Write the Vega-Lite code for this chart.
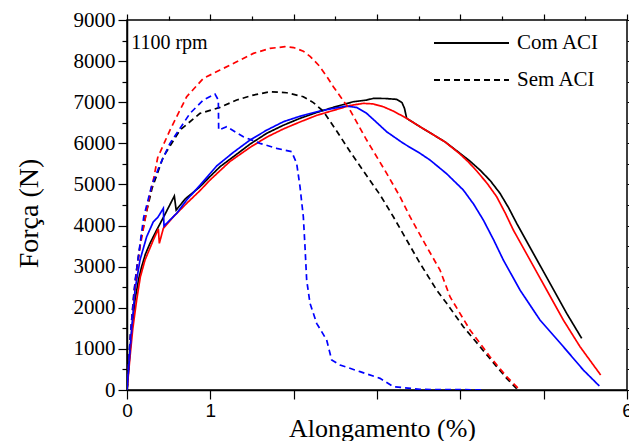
{
  "$schema": "https://vega.github.io/schema/vega-lite/v6.json",
  "width": 500,
  "height": 370,
  "autosize": {"type": "none"},
  "padding": {"left": 127, "top": 20, "right": 2, "bottom": 51},
  "background": "white",
  "config": {
    "view": {"stroke": "black", "strokeWidth": 1.5},
    "axis": {"grid": false, "domainColor": "black", "domainWidth": 1.5, "tickColor": "black", "tickWidth": 1.2, "labelColor": "black", "titleColor": "black", "titleFontWeight": "normal"}
  },
  "datasets": {
    "curves": [
      {"s":"A","t":"Com ACI","i":0,"x":0,"f":0},
      {"s":"A","t":"Com ACI","i":1,"x":0.036,"f":973},
      {"s":"A","t":"Com ACI","i":2,"x":0.06,"f":1500},
      {"s":"A","t":"Com ACI","i":3,"x":0.096,"f":2189},
      {"s":"A","t":"Com ACI","i":4,"x":0.14,"f":2700},
      {"s":"A","t":"Com ACI","i":5,"x":0.176,"f":2999},
      {"s":"A","t":"Com ACI","i":6,"x":0.22,"f":3300},
      {"s":"A","t":"Com ACI","i":7,"x":0.276,"f":3567},
      {"s":"A","t":"Com ACI","i":8,"x":0.356,"f":3891},
      {"s":"A","t":"Com ACI","i":9,"x":0.45,"f":4250},
      {"s":"A","t":"Com ACI","i":10,"x":0.568,"f":4718},
      {"s":"A","t":"Com ACI","i":11,"x":0.59,"f":4378},
      {"s":"A","t":"Com ACI","i":12,"x":0.7,"f":4650},
      {"s":"A","t":"Com ACI","i":13,"x":0.876,"f":4944},
      {"s":"A","t":"Com ACI","i":14,"x":1.0,"f":5200},
      {"s":"A","t":"Com ACI","i":15,"x":1.116,"f":5431},
      {"s":"A","t":"Com ACI","i":16,"x":1.276,"f":5674},
      {"s":"A","t":"Com ACI","i":17,"x":1.476,"f":5980},
      {"s":"A","t":"Com ACI","i":18,"x":1.676,"f":6243},
      {"s":"A","t":"Com ACI","i":19,"x":1.876,"f":6440},
      {"s":"A","t":"Com ACI","i":20,"x":2.076,"f":6608},
      {"s":"A","t":"Com ACI","i":21,"x":2.276,"f":6750},
      {"s":"A","t":"Com ACI","i":22,"x":2.476,"f":6875},
      {"s":"A","t":"Com ACI","i":23,"x":2.716,"f":7012},
      {"s":"A","t":"Com ACI","i":24,"x":2.876,"f":7053},
      {"s":"A","t":"Com ACI","i":25,"x":2.956,"f":7094},
      {"s":"A","t":"Com ACI","i":26,"x":3.1,"f":7090},
      {"s":"A","t":"Com ACI","i":27,"x":3.236,"f":7070},
      {"s":"A","t":"Com ACI","i":28,"x":3.3,"f":6990},
      {"s":"A","t":"Com ACI","i":29,"x":3.33,"f":6850},
      {"s":"A","t":"Com ACI","i":30,"x":3.356,"f":6608},
      {"s":"A","t":"Com ACI","i":31,"x":3.516,"f":6404},
      {"s":"A","t":"Com ACI","i":32,"x":3.636,"f":6258},
      {"s":"A","t":"Com ACI","i":33,"x":3.82,"f":6030},
      {"s":"A","t":"Com ACI","i":34,"x":3.996,"f":5757},
      {"s":"A","t":"Com ACI","i":35,"x":4.12,"f":5560},
      {"s":"A","t":"Com ACI","i":36,"x":4.236,"f":5350},
      {"s":"A","t":"Com ACI","i":37,"x":4.36,"f":5090},
      {"s":"A","t":"Com ACI","i":38,"x":4.476,"f":4784},
      {"s":"A","t":"Com ACI","i":39,"x":4.58,"f":4430},
      {"s":"A","t":"Com ACI","i":40,"x":4.676,"f":4054},
      {"s":"A","t":"Com ACI","i":41,"x":4.876,"f":3324},
      {"s":"A","t":"Com ACI","i":42,"x":5.076,"f":2595},
      {"s":"A","t":"Com ACI","i":43,"x":5.276,"f":1865},
      {"s":"A","t":"Com ACI","i":44,"x":5.456,"f":1257},

      {"s":"B","t":"Com ACI","i":0,"x":0,"f":0},
      {"s":"B","t":"Com ACI","i":1,"x":0.036,"f":800},
      {"s":"B","t":"Com ACI","i":2,"x":0.07,"f":1500},
      {"s":"B","t":"Com ACI","i":3,"x":0.116,"f":2189},
      {"s":"B","t":"Com ACI","i":4,"x":0.16,"f":2750},
      {"s":"B","t":"Com ACI","i":5,"x":0.216,"f":3162},
      {"s":"B","t":"Com ACI","i":6,"x":0.316,"f":3648},
      {"s":"B","t":"Com ACI","i":7,"x":0.376,"f":3920},
      {"s":"B","t":"Com ACI","i":8,"x":0.388,"f":3567},
      {"s":"B","t":"Com ACI","i":9,"x":0.436,"f":3932},
      {"s":"B","t":"Com ACI","i":10,"x":0.55,"f":4200},
      {"s":"B","t":"Com ACI","i":11,"x":0.716,"f":4540},
      {"s":"B","t":"Com ACI","i":12,"x":0.876,"f":4850},
      {"s":"B","t":"Com ACI","i":13,"x":0.996,"f":5107},
      {"s":"B","t":"Com ACI","i":14,"x":1.236,"f":5560},
      {"s":"B","t":"Com ACI","i":15,"x":1.476,"f":5900},
      {"s":"B","t":"Com ACI","i":16,"x":1.676,"f":6150},
      {"s":"B","t":"Com ACI","i":17,"x":1.876,"f":6350},
      {"s":"B","t":"Com ACI","i":18,"x":2.076,"f":6520},
      {"s":"B","t":"Com ACI","i":19,"x":2.276,"f":6680},
      {"s":"B","t":"Com ACI","i":20,"x":2.476,"f":6800},
      {"s":"B","t":"Com ACI","i":21,"x":2.676,"f":6920},
      {"s":"B","t":"Com ACI","i":22,"x":2.836,"f":6972},
      {"s":"B","t":"Com ACI","i":23,"x":2.95,"f":6960},
      {"s":"B","t":"Com ACI","i":24,"x":3.076,"f":6890},
      {"s":"B","t":"Com ACI","i":25,"x":3.2,"f":6780},
      {"s":"B","t":"Com ACI","i":26,"x":3.356,"f":6608},
      {"s":"B","t":"Com ACI","i":27,"x":3.516,"f":6404},
      {"s":"B","t":"Com ACI","i":28,"x":3.636,"f":6258},
      {"s":"B","t":"Com ACI","i":29,"x":3.82,"f":6030},
      {"s":"B","t":"Com ACI","i":30,"x":3.996,"f":5740},
      {"s":"B","t":"Com ACI","i":31,"x":4.1,"f":5540},
      {"s":"B","t":"Com ACI","i":32,"x":4.2,"f":5320},
      {"s":"B","t":"Com ACI","i":33,"x":4.32,"f":5030},
      {"s":"B","t":"Com ACI","i":34,"x":4.436,"f":4702},
      {"s":"B","t":"Com ACI","i":35,"x":4.54,"f":4300},
      {"s":"B","t":"Com ACI","i":36,"x":4.636,"f":3891},
      {"s":"B","t":"Com ACI","i":37,"x":4.836,"f":3162},
      {"s":"B","t":"Com ACI","i":38,"x":5.036,"f":2432},
      {"s":"B","t":"Com ACI","i":39,"x":5.236,"f":1702},
      {"s":"B","t":"Com ACI","i":40,"x":5.436,"f":1054},
      {"s":"B","t":"Com ACI","i":41,"x":5.684,"f":365},

      {"s":"C","t":"Com ACI","i":0,"x":0,"f":0},
      {"s":"C","t":"Com ACI","i":1,"x":0.056,"f":1459},
      {"s":"C","t":"Com ACI","i":2,"x":0.096,"f":2432},
      {"s":"C","t":"Com ACI","i":3,"x":0.156,"f":3162},
      {"s":"C","t":"Com ACI","i":4,"x":0.236,"f":3728},
      {"s":"C","t":"Com ACI","i":5,"x":0.316,"f":4093},
      {"s":"C","t":"Com ACI","i":6,"x":0.37,"f":4200},
      {"s":"C","t":"Com ACI","i":7,"x":0.436,"f":4418},
      {"s":"C","t":"Com ACI","i":8,"x":0.444,"f":3990},
      {"s":"C","t":"Com ACI","i":9,"x":0.596,"f":4297},
      {"s":"C","t":"Com ACI","i":10,"x":0.716,"f":4621},
      {"s":"C","t":"Com ACI","i":11,"x":0.876,"f":4980},
      {"s":"C","t":"Com ACI","i":12,"x":1.076,"f":5450},
      {"s":"C","t":"Com ACI","i":13,"x":1.276,"f":5780},
      {"s":"C","t":"Com ACI","i":14,"x":1.476,"f":6080},
      {"s":"C","t":"Com ACI","i":15,"x":1.676,"f":6320},
      {"s":"C","t":"Com ACI","i":16,"x":1.876,"f":6525},
      {"s":"C","t":"Com ACI","i":17,"x":2.076,"f":6660},
      {"s":"C","t":"Com ACI","i":18,"x":2.276,"f":6768},
      {"s":"C","t":"Com ACI","i":19,"x":2.476,"f":6850},
      {"s":"C","t":"Com ACI","i":20,"x":2.636,"f":6907},
      {"s":"C","t":"Com ACI","i":21,"x":2.76,"f":6870},
      {"s":"C","t":"Com ACI","i":22,"x":2.876,"f":6729},
      {"s":"C","t":"Com ACI","i":23,"x":3.0,"f":6500},
      {"s":"C","t":"Com ACI","i":24,"x":3.116,"f":6282},
      {"s":"C","t":"Com ACI","i":25,"x":3.316,"f":6000},
      {"s":"C","t":"Com ACI","i":26,"x":3.516,"f":5757},
      {"s":"C","t":"Com ACI","i":27,"x":3.636,"f":5594},
      {"s":"C","t":"Com ACI","i":28,"x":3.836,"f":5260},
      {"s":"C","t":"Com ACI","i":29,"x":4.036,"f":4864},
      {"s":"C","t":"Com ACI","i":30,"x":4.16,"f":4520},
      {"s":"C","t":"Com ACI","i":31,"x":4.276,"f":4134},
      {"s":"C","t":"Com ACI","i":32,"x":4.4,"f":3650},
      {"s":"C","t":"Com ACI","i":33,"x":4.516,"f":3162},
      {"s":"C","t":"Com ACI","i":34,"x":4.716,"f":2432},
      {"s":"C","t":"Com ACI","i":35,"x":4.956,"f":1702},
      {"s":"C","t":"Com ACI","i":36,"x":5.236,"f":1054},
      {"s":"C","t":"Com ACI","i":37,"x":5.476,"f":486},
      {"s":"C","t":"Com ACI","i":38,"x":5.668,"f":97},

      {"s":"A","t":"Sem ACI","i":0,"x":0,"f":0},
      {"s":"A","t":"Sem ACI","i":1,"x":0.04,"f":1300},
      {"s":"A","t":"Sem ACI","i":2,"x":0.08,"f":2300},
      {"s":"A","t":"Sem ACI","i":3,"x":0.12,"f":3000},
      {"s":"A","t":"Sem ACI","i":4,"x":0.17,"f":3700},
      {"s":"A","t":"Sem ACI","i":5,"x":0.23,"f":4300},
      {"s":"A","t":"Sem ACI","i":6,"x":0.3,"f":4900},
      {"s":"A","t":"Sem ACI","i":7,"x":0.436,"f":5674},
      {"s":"A","t":"Sem ACI","i":8,"x":0.636,"f":6323},
      {"s":"A","t":"Sem ACI","i":9,"x":0.876,"f":6729},
      {"s":"A","t":"Sem ACI","i":10,"x":1.116,"f":6875},
      {"s":"A","t":"Sem ACI","i":11,"x":1.316,"f":7053},
      {"s":"A","t":"Sem ACI","i":12,"x":1.516,"f":7174},
      {"s":"A","t":"Sem ACI","i":13,"x":1.716,"f":7255},
      {"s":"A","t":"Sem ACI","i":14,"x":1.916,"f":7231},
      {"s":"A","t":"Sem ACI","i":15,"x":2.116,"f":7133},
      {"s":"A","t":"Sem ACI","i":16,"x":2.236,"f":6990},
      {"s":"A","t":"Sem ACI","i":17,"x":2.356,"f":6780},
      {"s":"A","t":"Sem ACI","i":18,"x":2.516,"f":6300},
      {"s":"A","t":"Sem ACI","i":19,"x":2.676,"f":5800},
      {"s":"A","t":"Sem ACI","i":20,"x":2.856,"f":5270},
      {"s":"A","t":"Sem ACI","i":21,"x":3.036,"f":4750},
      {"s":"A","t":"Sem ACI","i":22,"x":3.196,"f":4215},
      {"s":"A","t":"Sem ACI","i":23,"x":3.356,"f":3648},
      {"s":"A","t":"Sem ACI","i":24,"x":3.516,"f":3081},
      {"s":"A","t":"Sem ACI","i":25,"x":3.716,"f":2432},
      {"s":"A","t":"Sem ACI","i":26,"x":3.836,"f":2108},
      {"s":"A","t":"Sem ACI","i":27,"x":4.036,"f":1540},
      {"s":"A","t":"Sem ACI","i":28,"x":4.236,"f":1054},
      {"s":"A","t":"Sem ACI","i":29,"x":4.436,"f":567},
      {"s":"A","t":"Sem ACI","i":30,"x":4.556,"f":284},
      {"s":"A","t":"Sem ACI","i":31,"x":4.676,"f":30},

      {"s":"B","t":"Sem ACI","i":0,"x":0,"f":0},
      {"s":"B","t":"Sem ACI","i":1,"x":0.04,"f":1200},
      {"s":"B","t":"Sem ACI","i":2,"x":0.076,"f":2108},
      {"s":"B","t":"Sem ACI","i":3,"x":0.108,"f":2756},
      {"s":"B","t":"Sem ACI","i":4,"x":0.156,"f":3485},
      {"s":"B","t":"Sem ACI","i":5,"x":0.216,"f":4134},
      {"s":"B","t":"Sem ACI","i":6,"x":0.276,"f":4784},
      {"s":"B","t":"Sem ACI","i":7,"x":0.316,"f":5107},
      {"s":"B","t":"Sem ACI","i":8,"x":0.368,"f":5650},
      {"s":"B","t":"Sem ACI","i":9,"x":0.516,"f":6323},
      {"s":"B","t":"Sem ACI","i":10,"x":0.716,"f":7133},
      {"s":"B","t":"Sem ACI","i":11,"x":0.916,"f":7580},
      {"s":"B","t":"Sem ACI","i":12,"x":1.116,"f":7782},
      {"s":"B","t":"Sem ACI","i":13,"x":1.316,"f":7985},
      {"s":"B","t":"Sem ACI","i":14,"x":1.516,"f":8188},
      {"s":"B","t":"Sem ACI","i":15,"x":1.716,"f":8310},
      {"s":"B","t":"Sem ACI","i":16,"x":1.896,"f":8350},
      {"s":"B","t":"Sem ACI","i":17,"x":2.0,"f":8330},
      {"s":"B","t":"Sem ACI","i":18,"x":2.116,"f":8240},
      {"s":"B","t":"Sem ACI","i":19,"x":2.2,"f":8110},
      {"s":"B","t":"Sem ACI","i":20,"x":2.3,"f":7900},
      {"s":"B","t":"Sem ACI","i":21,"x":2.4,"f":7620},
      {"s":"B","t":"Sem ACI","i":22,"x":2.476,"f":7377},
      {"s":"B","t":"Sem ACI","i":23,"x":2.676,"f":6810},
      {"s":"B","t":"Sem ACI","i":24,"x":2.876,"f":6080},
      {"s":"B","t":"Sem ACI","i":25,"x":3.116,"f":5270},
      {"s":"B","t":"Sem ACI","i":26,"x":3.276,"f":4702},
      {"s":"B","t":"Sem ACI","i":27,"x":3.396,"f":4215},
      {"s":"B","t":"Sem ACI","i":28,"x":3.596,"f":3485},
      {"s":"B","t":"Sem ACI","i":29,"x":3.756,"f":2918},
      {"s":"B","t":"Sem ACI","i":30,"x":3.876,"f":2269},
      {"s":"B","t":"Sem ACI","i":31,"x":4.116,"f":1459},
      {"s":"B","t":"Sem ACI","i":32,"x":4.356,"f":810},
      {"s":"B","t":"Sem ACI","i":33,"x":4.556,"f":324},
      {"s":"B","t":"Sem ACI","i":34,"x":4.696,"f":41},

      {"s":"C","t":"Sem ACI","i":0,"x":0,"f":0},
      {"s":"C","t":"Sem ACI","i":1,"x":0.04,"f":1300},
      {"s":"C","t":"Sem ACI","i":2,"x":0.1,"f":2700},
      {"s":"C","t":"Sem ACI","i":3,"x":0.2,"f":4200},
      {"s":"C","t":"Sem ACI","i":4,"x":0.3,"f":5000},
      {"s":"C","t":"Sem ACI","i":5,"x":0.4,"f":5500},
      {"s":"C","t":"Sem ACI","i":6,"x":0.516,"f":6000},
      {"s":"C","t":"Sem ACI","i":7,"x":0.756,"f":6729},
      {"s":"C","t":"Sem ACI","i":8,"x":0.916,"f":7053},
      {"s":"C","t":"Sem ACI","i":9,"x":1.056,"f":7199},
      {"s":"C","t":"Sem ACI","i":10,"x":1.096,"f":7053},
      {"s":"C","t":"Sem ACI","i":11,"x":1.1,"f":6323},
      {"s":"C","t":"Sem ACI","i":12,"x":1.196,"f":6404},
      {"s":"C","t":"Sem ACI","i":13,"x":1.296,"f":6282},
      {"s":"C","t":"Sem ACI","i":14,"x":1.396,"f":6161},
      {"s":"C","t":"Sem ACI","i":15,"x":1.596,"f":6000},
      {"s":"C","t":"Sem ACI","i":16,"x":1.796,"f":5878},
      {"s":"C","t":"Sem ACI","i":17,"x":1.976,"f":5797},
      {"s":"C","t":"Sem ACI","i":18,"x":2.036,"f":5513},
      {"s":"C","t":"Sem ACI","i":19,"x":2.076,"f":4945},
      {"s":"C","t":"Sem ACI","i":20,"x":2.116,"f":4215},
      {"s":"C","t":"Sem ACI","i":21,"x":2.136,"f":3485},
      {"s":"C","t":"Sem ACI","i":22,"x":2.156,"f":2675},
      {"s":"C","t":"Sem ACI","i":23,"x":2.196,"f":2108},
      {"s":"C","t":"Sem ACI","i":24,"x":2.276,"f":1622},
      {"s":"C","t":"Sem ACI","i":25,"x":2.396,"f":1216},
      {"s":"C","t":"Sem ACI","i":26,"x":2.456,"f":730},
      {"s":"C","t":"Sem ACI","i":27,"x":2.556,"f":608},
      {"s":"C","t":"Sem ACI","i":28,"x":2.796,"f":446},
      {"s":"C","t":"Sem ACI","i":29,"x":3.036,"f":284},
      {"s":"C","t":"Sem ACI","i":30,"x":3.196,"f":81},
      {"s":"C","t":"Sem ACI","i":31,"x":3.516,"f":16},
      {"s":"C","t":"Sem ACI","i":32,"x":3.756,"f":10},
      {"s":"C","t":"Sem ACI","i":33,"x":4.276,"f":5}
    ],
    "notes": [
      {"x": 0.05, "f": 8440, "label": "1100 rpm"}
    ]
  },
  "layer": [
    {
      "data": {"name": "curves"},
      "mark": {"type": "line", "strokeWidth": 1.7, "clip": true},
      "encoding": {
        "x": {
          "field": "x", "type": "quantitative",
          "scale": {"domain": [0, 6], "nice": false, "zero": false},
          "axis": {
            "orient": "bottom",
            "title": "Alongamento (%)",
            "titleFont": "Liberation Serif", "titleFontSize": 26,
            "titleX": 255, "titleY": 46, "titleBaseline": "alphabetic", "titleAnchor": "middle",
            "values": [0, 0.5, 1, 1.5, 2, 2.5, 3, 3.5, 4, 4.5, 5, 5.5, 6],
            "format": "d",
            "labelExpr": "indexof([0, 1, 6], datum.value) >= 0 ? datum.label : ''",
            "labelFont": "Liberation Sans", "labelFontSize": 19,
            "labelPadding": 2, "labelFlush": false, "labelOverlap": false, "labelBound": false,
            "tickSize": {"condition": {"test": "datum.value % 1 === 0", "value": 9}, "value": 5}
          }
        },
        "y": {
          "field": "f", "type": "quantitative",
          "scale": {"domain": [0, 9000], "nice": false},
          "axis": {
            "orient": "left",
            "title": "Força (N)",
            "titleFont": "Liberation Serif", "titleFontSize": 28,
            "titleX": -90, "titleY": 193, "titleBaseline": "alphabetic", "titleAnchor": "middle", "titleAngle": -90,
            "values": [0, 500, 1000, 1500, 2000, 2500, 3000, 3500, 4000, 4500, 5000, 5500, 6000, 6500, 7000, 7500, 8000, 8500, 9000],
            "format": "d",
            "labelExpr": "datum.value % 1000 === 0 ? datum.label : ''",
            "labelFont": "Liberation Serif", "labelFontSize": 21,
            "labelPadding": 3, "labelOverlap": false, "labelFlush": false, "labelBound": false,
            "tickSize": {"condition": {"test": "datum.value % 1000 === 0", "value": 9}, "value": 5}
          }
        },
        "color": {
          "field": "s", "type": "nominal",
          "scale": {"domain": ["A", "B", "C"], "range": ["#000000", "#ff0000", "#0000ff"]},
          "legend": null
        },
        "strokeDash": {
          "field": "t", "type": "nominal",
          "scale": {"domain": ["Com ACI", "Sem ACI"], "range": [[1, 0], [6, 4]]},
          "legend": {
            "orient": "none", "legendX": 306, "legendY": 8,
            "title": null, "padding": 0,
            "symbolType": "stroke", "symbolSize": 5625, "symbolStrokeWidth": 1.8,
            "symbolStrokeColor": "black",
            "labelFont": "Liberation Serif", "labelFontSize": 21, "labelColor": "black",
            "labelOffset": 7, "clipHeight": 30, "rowPadding": 7
          }
        },
        "order": {"field": "i", "type": "quantitative"}
      }
    },
    {
      "data": {"name": "notes"},
      "mark": {"type": "text", "align": "left", "baseline": "middle", "font": "Liberation Serif", "fontSize": 20, "color": "black"},
      "encoding": {
        "x": {
          "field": "x", "type": "quantitative",
          "axis": {
            "orient": "top", "title": null, "labels": false, "domain": false,
            "values": [0, 0.5, 1, 1.5, 2, 2.5, 3, 3.5, 4, 4.5, 5, 5.5, 6],
            "tickSize": {"condition": {"test": "datum.value % 1 === 0", "value": 6}, "value": 4}
          }
        },
        "y": {
          "field": "f", "type": "quantitative",
          "axis": {
            "orient": "right", "title": null, "labels": false, "domain": false,
            "values": [0, 500, 1000, 1500, 2000, 2500, 3000, 3500, 4000, 4500, 5000, 5500, 6000, 6500, 7000, 7500, 8000, 8500, 9000],
            "tickSize": {"condition": {"test": "datum.value % 1000 === 0", "value": 6}, "value": 4}
          }
        },
        "text": {"field": "label", "type": "nominal"}
      }
    }
  ],
  "resolve": {"axis": {"x": "independent", "y": "independent"}}
}
